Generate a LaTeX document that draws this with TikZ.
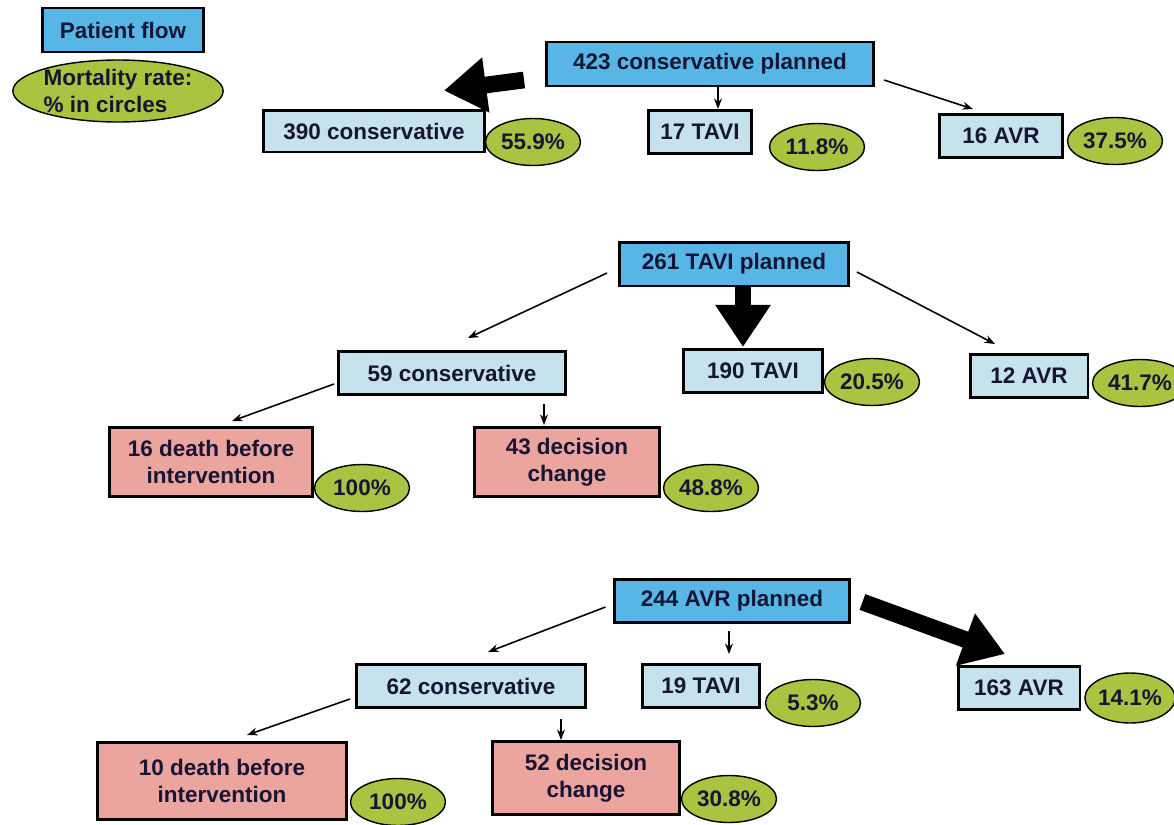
\documentclass[tikz,border=0pt]{standalone}
\usepackage{fontspec}
\setmainfont{Liberation Sans}
\usetikzlibrary{shapes.geometric,arrows.meta,calc}
\definecolor{plannedblue}{RGB}{88,182,230}
\definecolor{resultblue}{RGB}{198,226,236}
\definecolor{deathpink}{RGB}{235,164,158}
\definecolor{rategreen}{RGB}{168,196,64}
\definecolor{textnavy}{RGB}{22,22,52}

\begin{document}
\begin{tikzpicture}[x=0.02cm, y=-0.02cm,
    every node/.style={font=\fontsize{12.8}{15.5}\selectfont\bfseries, text=textnavy, align=center},
    planned/.style={draw, line width=1.7pt, fill=plannedblue, minimum height=0.88cm},
    result/.style={draw, line width=1.7pt, fill=resultblue, minimum height=0.86cm},
    death/.style={draw, line width=1.7pt, fill=deathpink},
    rate/.style={draw, ellipse, line width=0.8pt, fill=rategreen, minimum width=1.9cm, minimum height=0.94cm, inner sep=0pt},
    flow/.style={-{Stealth[length=6pt,width=4.5pt]}, line width=0.9pt},
    mainflow/.style={-{Triangle[length=24pt,width=30pt]}, line width=9.5pt}]
    \useasboundingbox (0,0) rectangle (1174,825);
    \clip (0,0) rectangle (1174,825);

    % Legend
    \node[planned, minimum width=3.24cm] (legflow) at (123,30) {Patient flow};
    \node[rate, align=left, minimum width=4.14cm, minimum height=1.24cm] (legrate) at (118,91) {Mortality rate:\\\% in circles};

    % Conservative planned
    \node[planned, minimum width=6.54cm] (planA) at (710,64) {423 conservative planned};
    \node[result, minimum width=4.42cm, minimum height=0.84cm] (consA) at (374,131) {390 conservative};
    \node[rate] (rateconsA) at (533,142) {55.9\%};
    \node[result, minimum width=2.06cm] (tavA) at (700,132) {17 TAVI};
    \node[rate] (ratetavA) at (817,147) {11.8\%};
    \node[result, minimum width=2.46cm] (avrA) at (1001,136) {16 AVR};
    \node[rate] (rateavrA) at (1115,141) {37.5\%};

    \draw[mainflow] ($(planA.west)+(-21,16)$) -- ($(consA.north east)+(-42,-18)$);
    \draw[flow] ($(planA.south)+(8,0)$) -- ($(tavA.north)+(18,0)$);
    \draw[flow] ($(planA.east)+(9,16)$) -- ($(avrA.north)+(-28,-4)$);

    % TAVI planned
    \node[planned, minimum width=4.58cm] (planB) at (734,264) {261 TAVI planned};
    \node[result, minimum width=4.54cm] (consB) at (452,373) {59 conservative};
    \node[result, minimum width=2.8cm] (tavB) at (753,371) {190 TAVI};
    \node[rate] (ratetavB) at (872,382) {20.5\%};
    \node[result, minimum width=2.36cm] (avrB) at (1029,376) {12 AVR};
    \node[rate] (rateavrB) at (1140,383) {41.7\%};
    \node[death, minimum width=4.08cm, minimum height=1.38cm] (deathB) at (211,462) {16 death before\\intervention};
    \node[rate] (ratedeathB) at (362,488) {100\%};
    \node[death, minimum width=3.72cm, minimum height=1.38cm] (decB) at (567,462) {43 decision\\change};
    \node[rate] (ratedecB) at (711,488) {48.8\%};

    \draw[flow] ($(planB.west)+(-11,9)$) -- ($(consB.north)+(16,-12)$);
    \draw[mainflow] ($(planB.south)+(9,0)$) -- ($(tavB.north)+(-10,-1)$);
    \draw[flow] ($(planB.east)+(7,8)$) -- ($(avrB.north)+(-34,-9)$);
    \draw[flow] ($(consB.west)+(-3,11)$) -- ($(deathB.north)+(21,-5)$);
    \draw[flow] ($(consB.south)+(92,8)$) -- ($(decB.north)+(-23,-1)$);

    % AVR planned
    \node[planned, minimum width=4.72cm, minimum height=0.86cm] (planC) at (732,601) {244 AVR planned};
    \node[result, minimum width=4.58cm] (consC) at (471,686) {62 conservative};
    \node[result, minimum width=2.34cm] (tavC) at (701,686) {19 TAVI};
    \node[rate] (ratetavC) at (813,703) {5.3\%};
    \node[result, minimum width=2.44cm] (avrC) at (1019,688) {163 AVR};
    \node[rate, minimum width=1.8cm, minimum height=1cm] (rateavrC) at (1130,698) {14.1\%};
    \node[death, minimum width=5cm, minimum height=1.54cm] (deathC) at (222,781) {10 death before\\intervention};
    \node[rate] (ratedeathC) at (398,802) {100\%};
    \node[death, minimum width=3.74cm, minimum height=1.46cm] (decC) at (586,778) {52 decision\\change};
    \node[rate] (ratedecC) at (729,799) {30.8\%};

    \draw[flow] ($(planC.west)+(-7,6)$) -- ($(consC.north)+(17,-11)$);
    \draw[flow] ($(planC.south)+(-3,7)$) -- ($(tavC.north)+(28,-9)$);
    \draw[mainflow] ($(planC.east)+(11,1)$) -- ($(avrC.north)+(-14,-11)$);
    \draw[flow] ($(consC.west)+(-5,13)$) -- ($(deathC.north)+(25,-6)$);
    \draw[flow] ($(consC.south)+(90,10)$) -- ($(decC.north)+(-25,0)$);
\end{tikzpicture}
\end{document}
